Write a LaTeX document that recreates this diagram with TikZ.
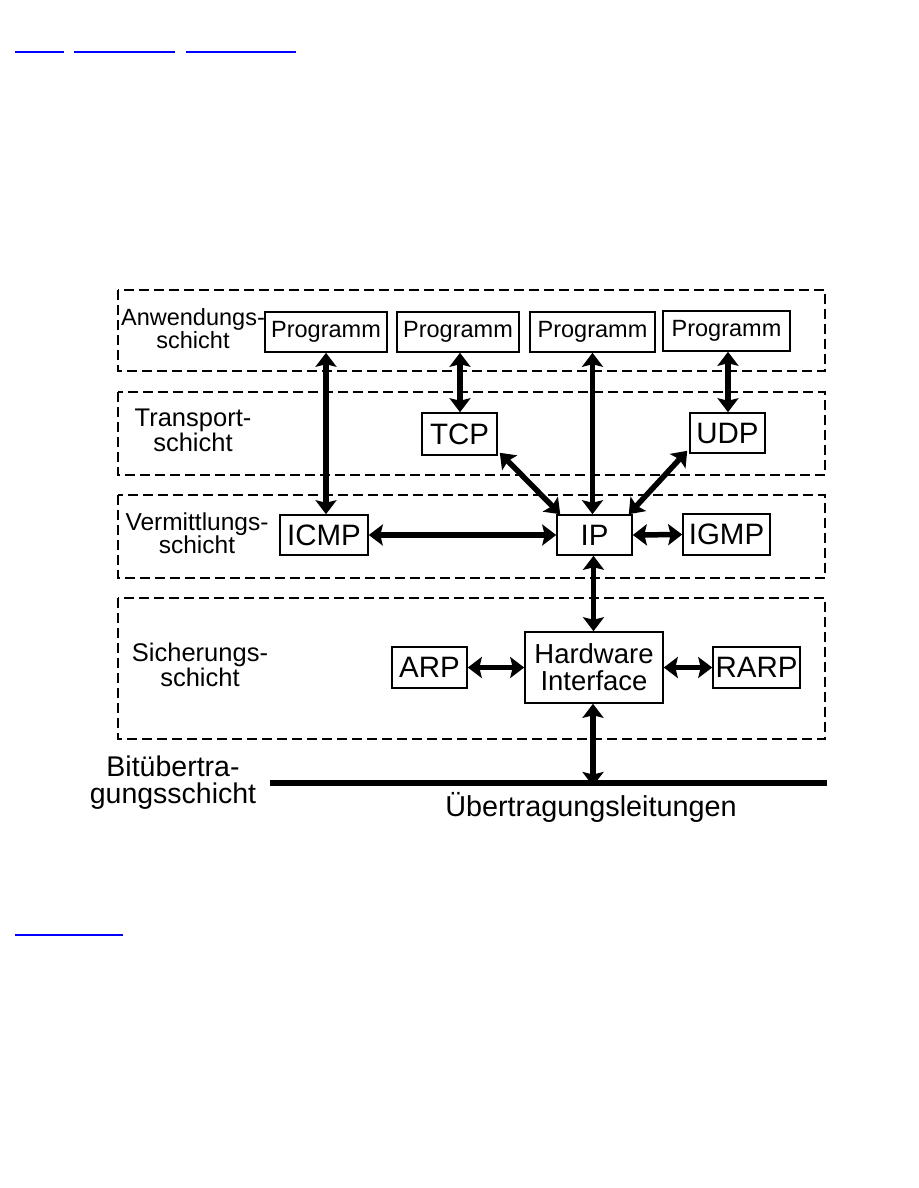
\documentclass[tikz,border=0pt]{standalone}
\usepackage{fontspec}
\setmainfont{Liberation Sans}
\usetikzlibrary{arrows.meta}
\begin{document}
\begin{tikzpicture}[x=1pt,y=-1pt,
  layer/.style={draw, line width=2.6pt, dash pattern=on 10pt off 5pt},
  proto/.style={draw, line width=1.6pt, inner sep=0pt, align=center, font=\fontsize{29.5}{29}\selectfont},
  prog/.style={draw, line width=1.6pt, inner sep=0pt, font=\fontsize{23.5}{23}\selectfont},
  lbl/.style={align=center, inner sep=0pt, font=\fontsize{25.5}{23.5}\selectfont},
  dbl/.style={line width=5.5pt, {Stealth[length=14pt,width=21pt,inset=2.5pt]}-{Stealth[length=14pt,width=21pt,inset=2.5pt]}},
  link/.style={blue, line width=1.3pt}
]
\useasboundingbox (0,0) rectangle (918,1188);
% link underlines
\draw[link] (15,52) -- (64,52);
\draw[link] (74,52) -- (175,52);
\draw[link] (186,52) -- (296,52);
\draw[link] (15,935) -- (123,935);
% layers
\draw[layer] (118,290) rectangle (825,371);
\draw[layer] (118,392) rectangle (825,475);
\draw[layer] (118,495) rectangle (825,578);
\draw[layer] (118,598) rectangle (825,739);
% layer labels
\node[lbl, font=\fontsize{23.5}{23}\selectfont] (lA) at (193,329) {Anwendungs-\\schicht};
\node[lbl] (lT) at (193,430) {Transport-\\schicht};
\node[lbl, font=\fontsize{24.5}{23.5}\selectfont] (lV) at (197,533) {Vermittlungs-\\schicht};
\node[lbl] (lS) at (200,665) {Sicherungs-\\schicht};
\node[lbl, font=\fontsize{28.5}{27}\selectfont] (lB) at (173,783) {Bitübertra-\\gungsschicht};
% programs
\node[prog, minimum width=122pt, minimum height=40pt] (p1) at (326,332) {Programm};
\node[prog, minimum width=122pt, minimum height=40pt] (p2) at (458,332) {Programm};
\node[prog, minimum width=125pt, minimum height=40pt] (p3) at (592.5,332) {Programm};
\node[prog, minimum width=127pt, minimum height=40pt] (p4) at (726.5,331) {Programm};
% transport
\node[proto, minimum width=75pt, minimum height=42pt] (tcp) at (459.5,434) {TCP};
\node[proto, minimum width=75pt, minimum height=40pt] (udp) at (727.5,433) {UDP};
% network
\node[proto, minimum width=88pt, minimum height=40pt] (icmp) at (324,535) {ICMP};
\node[proto, minimum width=75pt, minimum height=40pt] (ip) at (594.5,535) {IP};
\node[proto, minimum width=87pt, minimum height=41pt] (igmp) at (726.5,534.5) {IGMP};
% link layer
\node[proto, minimum width=75pt, minimum height=41pt] (arp) at (429.5,667.5) {ARP};
\node[proto, minimum width=138pt, minimum height=71pt, font=\fontsize{27.5}{27}\selectfont] (hw) at (594,667.5) {Hardware\\Interface};
\node[proto, minimum width=87pt, minimum height=41pt] (rarp) at (756.5,667.5) {RARP};
% transmission line
\coordinate (lineL) at (270,783);
\coordinate (lineR) at (827,783);
\draw[line width=6pt] (lineL) -- (lineR);
\node[inner sep=0pt, font=\fontsize{28.8}{28}\selectfont] (bus) at (591,807) {Übertragungsleitungen};
% arrows
\draw[dbl] (p1.south) -- (p1.south |- icmp.north);
\draw[dbl] ([xshift=2pt]p2.south) -- ([xshift=2pt]p2.south |- tcp.north);
\draw[dbl] (p3.south) -- (p3.south |- ip.north);
\draw[dbl] ([xshift=1.5pt]p4.south) -- ([xshift=1.5pt]p4.south |- udp.north);
\draw[dbl] ([shift={(2pt,3pt)}]tcp.south east) -- ([xshift=4pt]ip.north west);
\draw[dbl] ([shift={(-2pt,3pt)}]udp.south west) -- ([xshift=-4pt]ip.north east);
\draw[dbl] (icmp.east) -- (ip.west);
\draw[dbl] (ip.east) -- (igmp.west);
\draw[dbl] ([xshift=-1pt]ip.south) -- ([xshift=-1pt]ip.south |- hw.north);
\draw[dbl] (arp.east) -- (arp.east -| hw.west);
\draw[dbl] (hw.east |- rarp.west) -- (rarp.west);
\draw[dbl] ([xshift=-1pt]hw.south) -- ([xshift=-1pt,yshift=-3pt]hw.south |- lineL);
\end{tikzpicture}
\end{document}
